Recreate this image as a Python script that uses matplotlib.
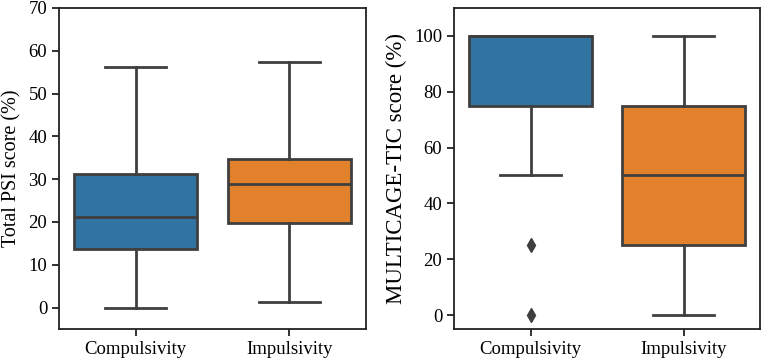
import matplotlib
matplotlib.use("Agg")
import matplotlib.pyplot as plt

plt.rcParams['font.family'] = ['Liberation Serif', 'DejaVu Serif']

groups = ['Compulsivity', 'Impulsivity']
colors = ['#3274a1', '#e1812c']

# Total PSI score (%) five-number summaries
psi_low = [0.0, 1.3]
psi_q1 = [13.7, 19.8]
psi_med = [21.2, 28.8]
psi_q3 = [31.3, 34.8]
psi_high = [56.2, 57.4]
psi_fliers = [[], []]

# MULTICAGE-TIC score (%)
tic_low = [50.0, 0.0]
tic_q1 = [75.0, 25.0]
tic_med = [100.0, 50.0]
tic_q3 = [100.0, 75.0]
tic_high = [100.0, 100.0]
tic_fliers = [[25.0, 0.0], []]

edge = '#3f3f3f'
lw = 2.0


def draw(ax, low, q1, med, q3, high, fliers, ylabel, ylim, yticks, labelsize):
    stats = []
    for i, g in enumerate(groups):
        stats.append(dict(label=g, whislo=low[i], q1=q1[i], med=med[i],
                          q3=q3[i], whishi=high[i], fliers=fliers[i]))
    bp = ax.bxp(stats, positions=range(len(groups)), widths=0.8,
                patch_artist=True, showfliers=True,
                boxprops=dict(edgecolor=edge, linewidth=lw),
                medianprops=dict(color=edge, linewidth=lw),
                whiskerprops=dict(color=edge, linewidth=lw),
                capprops=dict(color=edge, linewidth=lw),
                flierprops=dict(marker='d', markerfacecolor=edge,
                                markeredgecolor=edge, markersize=7))
    for patch, c in zip(bp['boxes'], colors):
        patch.set_facecolor(c)
    ax.set_xlim(-0.5, 1.5)
    ax.set_ylim(*ylim)
    ax.set_yticks(yticks)
    ax.set_xticks(range(len(groups)))
    ax.set_xticklabels(groups)
    ax.set_ylabel(ylabel, fontsize=labelsize, labelpad=5)
    ax.tick_params(labelsize=13.5, width=1.3, length=5, color='#222222')
    for s in ax.spines.values():
        s.set_linewidth(1.3)
        s.set_color('#222222')


fig = plt.figure(figsize=(7.65, 3.62), dpi=100)
ax1 = fig.add_axes([59 / 765, 1 - 329 / 362, 307 / 765, 321 / 362])
ax2 = fig.add_axes([454 / 765, 1 - 329 / 362, 306 / 765, 321 / 362])

draw(ax1, psi_low, psi_q1, psi_med, psi_q3, psi_high, psi_fliers,
     'Total PSI score (%)', (-5, 70), range(0, 71, 10), 14.5)
draw(ax2, tic_low, tic_q1, tic_med, tic_q3, tic_high, tic_fliers,
     'MULTICAGE-TIC score (%)', (-5, 110), range(0, 101, 20), 16.5)

fig.savefig('out.png', dpi=100)
